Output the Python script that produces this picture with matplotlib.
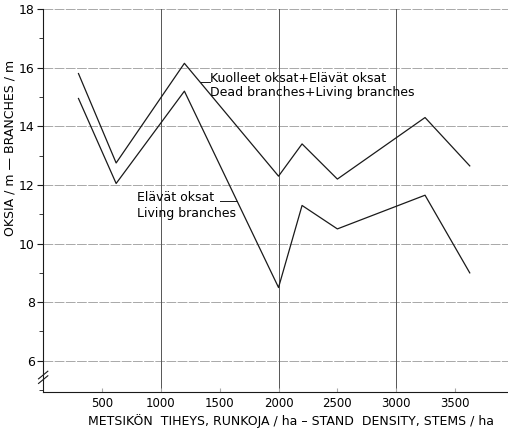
import matplotlib
matplotlib.use("Agg")
import matplotlib.pyplot as plt
from matplotlib.ticker import MultipleLocator

# Stand density (stems/ha) and branches per metre
density = [300, 620, 1200, 2000, 2200, 2500, 3245, 3625]
total_branches = [15.8, 12.75, 16.15, 12.3, 13.4, 12.2, 14.3, 12.65]
living_branches = [14.95, 12.05, 15.2, 8.5, 11.3, 10.5, 11.65, 9.0]

x_ticks = [500, 1000, 1500, 2000, 2500, 3000, 3500]
y_ticks = [6, 8, 10, 12, 14, 16, 18]

INK = "#1a1a1a"
GRID = "#a8a8a8"
plt.rcParams.update({"font.family": "DejaVu Sans", "font.size": 9})

fig = plt.figure(figsize=(5.08, 4.33), dpi=100)
ax = fig.add_axes([0.085, 0.095, 0.915, 0.884])

ax.plot(density, total_branches, color=INK, lw=0.9, zorder=3)
ax.plot(density, living_branches, color=INK, lw=0.9, zorder=3)

ax.set_xlim(0, 3950)
ax.set_ylim(4.94, 18)

# grid: faint broken horizontals, solid verticals every 1000
for y in y_ticks:
    ax.axhline(y, color=GRID, lw=0.7, ls=(0, (10, 1.5)), zorder=1)
for x in (1000, 2000, 3000):
    ax.axvline(x, color="#555555", lw=0.7, zorder=1)

ax.set_xticks(x_ticks)
ax.set_yticks(y_ticks)
ax.yaxis.set_minor_locator(MultipleLocator(1))
ax.tick_params(axis="y", which="major", direction="out", length=4, color=INK, labelsize=9, pad=2)
ax.tick_params(axis="y", which="minor", direction="out", length=3, color=INK)
ax.tick_params(axis="x", direction="in", length=3, color=GRID, labelsize=8.5, pad=4)
for s in ("top", "right"):
    ax.spines[s].set_visible(False)
for s in ("left", "bottom"):
    ax.spines[s].set_color(INK)
    ax.spines[s].set_linewidth(0.8)

# axis break marks on the y axis
kw = dict(transform=ax.transAxes, color=INK, lw=0.8, clip_on=False)
for dy in (0.0, 0.012):
    ax.plot([-0.01, 0.01], [0.022 + dy, 0.042 + dy], **kw)

# curve labels
ax.plot([1333, 1418], [15.51, 15.51], color=INK, lw=0.7)
ax.text(1420, 15.51, "Kuolleet oksat+Elävät oksat", ha="left", va="baseline")
ax.text(1420, 15.03, "Dead branches+Living branches", ha="left", va="baseline")
ax.plot([1504, 1648], [11.45, 11.45], color=INK, lw=0.7)
ax.text(797, 11.45, "Elävät oksat", ha="left", va="baseline")
ax.text(797, 10.91, "Living branches", ha="left", va="baseline")

fig.text(0.573, 0.018, "METSIKÖN  TIHEYS, RUNKOJA / ha – STAND  DENSITY, STEMS / ha",
         ha="center", va="baseline")
fig.text(0.02, 0.658, "OKSIA / m — BRANCHES / m", rotation=90, ha="center", va="center")

fig.savefig("out.png", dpi=100)
